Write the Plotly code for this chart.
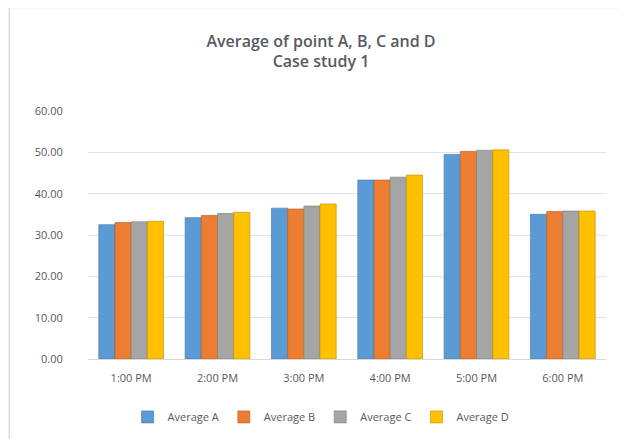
import plotly.graph_objects as go

categories = ["1:00 PM", "2:00 PM", "3:00 PM", "4:00 PM", "5:00 PM", "6:00 PM"]
avg_a = [32.5, 34.2, 36.5, 43.3, 49.5, 35.0]
avg_b = [33.0, 34.7, 36.3, 43.3, 50.2, 35.7]
avg_c = [33.2, 35.2, 37.0, 44.0, 50.5, 35.8]
avg_d = [33.3, 35.5, 37.5, 44.5, 50.6, 35.8]
series_names = ["Average A", "Average B", "Average C", "Average D"]
colors = ["#5B9BD5", "#ED7D31", "#A5A5A5", "#FFC000"]
edge = ["#41719C", "#AE5A21", "#787878", "#BC8C00"]
y_ticks = [0, 10, 20, 30, 40, 50, 60]

fig = go.Figure()
for name, vals, c, e in zip(series_names, [avg_a, avg_b, avg_c, avg_d], colors, edge):
    fig.add_trace(go.Bar(x=categories, y=vals, name=name,
                         marker=dict(color=c, line=dict(color=e, width=0.6))))

fig.update_layout(
    width=626, height=439,
    paper_bgcolor="white", plot_bgcolor="white",
    barmode="group", bargap=0.25, bargroupgap=0,
    title=dict(text="Average of point A, B, C and D<br>Case study 1",
               x=0.5, xanchor="center", y=0.912, yanchor="top",
               font=dict(family="Open Sans", size=16, weight=600, color="#555A63")),
    margin=dict(l=80, r=28, t=103, b=88),
    font=dict(family="Open Sans", size=11, color="#595959"),
    xaxis=dict(showgrid=False, showline=True, linecolor="#D9D9D9",
               tickfont=dict(size=11, color="#595959"),
               ticks="outside", ticklen=9, tickcolor="rgba(0,0,0,0)"),
    yaxis=dict(range=[0, 60], tickvals=y_ticks, tickformat=".2f",
               showgrid=True, gridcolor="#E3E3E3", zeroline=False,
               tickfont=dict(size=11, color="#595959"),
               ticks="outside", ticklen=22, tickcolor="rgba(0,0,0,0)"),
    legend=dict(orientation="h", x=0.45, xanchor="center", y=-0.175, yanchor="top",
                font=dict(size=11, color="#595959"), itemwidth=30),
    shapes=[
        dict(type="line", xref="paper", yref="paper", x0=-0.152, x1=1.06, y0=1.417, y1=1.417,
             line=dict(color="#DCDCDC", width=1.5)),
        dict(type="line", xref="paper", yref="paper", x0=-0.152, x1=-0.152, y0=-0.33, y1=1.417,
             line=dict(color="#DCDCDC", width=1.5)),
    ],
)

fig.write_html("out.html")
